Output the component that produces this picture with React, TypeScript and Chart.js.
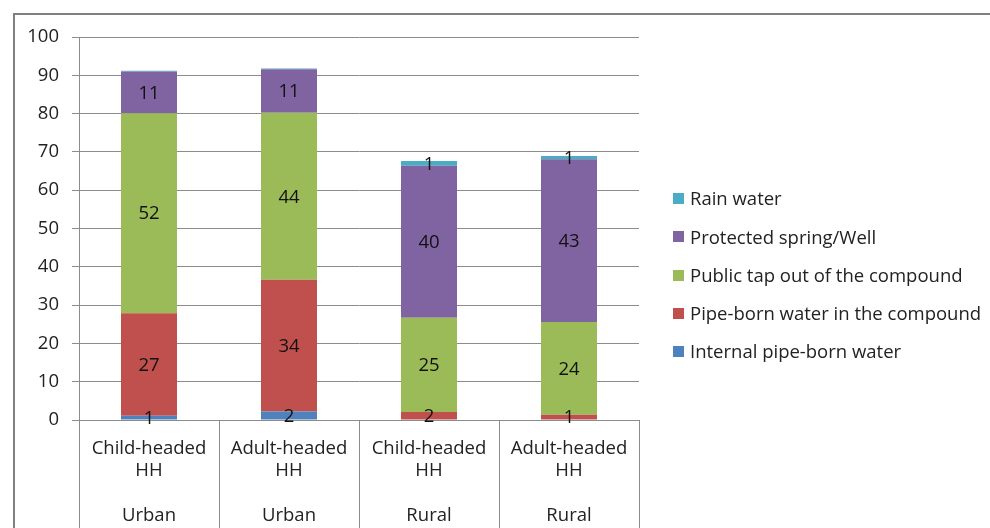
import React, { useEffect, useRef } from 'react';
import { Chart, registerables } from 'chart.js';

Chart.register(...registerables);

const categories: string[][] = [
  ['Child-headed', 'HH', '', 'Urban'],
  ['Adult-headed', 'HH', '', 'Urban'],
  ['Child-headed', 'HH', '', 'Rural'],
  ['Adult-headed', 'HH', '', 'Rural'],
];

const seriesNames = [
  'Internal pipe-born water',
  'Pipe-born water in the compound',
  'Public tap out of the compound',
  'Protected spring/Well',
  'Rain water',
];

const internalPipe = [1.1, 2.2, 0, 0];
const pipeCompound = [26.8, 34.4, 2.1, 1.4];
const publicTap = [52.2, 43.6, 24.6, 24.2];
const protectedSpring = [10.9, 11.4, 39.7, 42.5];
const rainWater = [0.2, 0.2, 1.2, 0.8];

const seriesColors = ['#4F81BD', '#C0504D', '#9BBB59', '#8064A2', '#4BACC6'];

const yTicks = [0, 10, 20, 30, 40, 50, 60, 70, 80, 90, 100];

const FONT = '"Open Sans", Lato, sans-serif';
const FS = 18.5;
const TEXT = '#222222';
const GRID = '#8c8c8c';

const decor = {
  id: 'decor',
  afterDraw(chart: any) {
    const ctx = chart.ctx as CanvasRenderingContext2D;
    const xs = chart.scales.x;
    const ys = chart.scales.y;
    ctx.save();
    // category separators below the axis
    ctx.strokeStyle = GRID;
    ctx.lineWidth = 1;
    const n = chart.data.labels.length;
    const half = (xs.getPixelForValue(1) - xs.getPixelForValue(0)) / 2;
    for (let i = 0; i <= n; i++) {
      const px = Math.round(xs.getPixelForValue(Math.min(i, n - 1)) + (i === n ? half : -half)) + 0.5;
      ctx.beginPath();
      ctx.moveTo(px, ys.bottom);
      ctx.lineTo(px, chart.height);
      ctx.stroke();
    }
    // data labels
    ctx.fillStyle = '#111';
    ctx.font = `${FS}px ${FONT}`;
    ctx.textAlign = 'center';
    ctx.textBaseline = 'middle';
    chart.data.datasets.forEach((ds: any, di: number) => {
      const meta = chart.getDatasetMeta(di);
      meta.data.forEach((bar: any, i: number) => {
        const v = Math.round(ds.data[i]);
        if (v < 1) return;
        ctx.fillText(String(v), bar.x, (bar.y + bar.base) / 2 + 1);
      });
    });
    // legend (reversed order)
    ctx.textAlign = 'left';
    const items = chart.data.datasets.slice().reverse();
    items.forEach((ds: any, k: number) => {
      const cy = 199 + k * 38.3;
      ctx.fillStyle = ds.backgroundColor;
      ctx.fillRect(673, Math.round(cy - 6), 11, 11);
      ctx.fillStyle = TEXT;
      ctx.fillText(ds.label, 690, cy + 1);
    });
    // outer border
    ctx.strokeStyle = '#808080';
    ctx.lineWidth = 2;
    ctx.strokeRect(14, 14, 1000, 1000);
    ctx.restore();
  },
};

export default function App() {
  const ref = useRef<HTMLCanvasElement>(null);
  useEffect(() => {
    if (!ref.current) return;
    const values = [internalPipe, pipeCompound, publicTap, protectedSpring, rainWater];
    const chart = new Chart(ref.current, {
      type: 'bar',
      data: {
        labels: categories as any,
        datasets: seriesNames.map((name, i) => ({
          label: name,
          data: values[i],
          backgroundColor: seriesColors[i],
          borderWidth: 0,
          barPercentage: 0.4,
          categoryPercentage: 1,
        })),
      },
      options: {
        animation: false,
        responsive: false,
        devicePixelRatio: 1,
        layout: { padding: { left: 0, top: 37, right: 351, bottom: 0 } },
        plugins: { legend: { display: false }, tooltip: { enabled: false } },
        scales: {
          x: {
            stacked: true,
            grid: { display: false, drawTicks: false },
            border: { display: true, color: GRID, width: 1 },
            ticks: {
              color: TEXT,
              font: { family: FONT, size: FS, lineHeight: 1.22 },
              padding: 17,
              maxRotation: 0,
              autoSkip: false,
            },
            afterFit: (s: any) => {
              s.height = 108;
            },
          },
          y: {
            stacked: true,
            min: 0,
            max: 100,
            afterBuildTicks: (s: any) => {
              s.ticks = yTicks.map((v) => ({ value: v }));
            },
            grid: { color: GRID, lineWidth: 1, tickLength: 7, drawTicks: true },
            border: { display: true, color: GRID, width: 1 },
            ticks: {
              color: TEXT,
              font: { family: FONT, size: FS },
              padding: 13,
            },
            afterFit: (s: any) => {
              s.width = 79;
            },
          },
        },
      },
      plugins: [decor],
    });
    return () => chart.destroy();
  }, []);
  return (
    <div style={{ position: 'absolute', left: 0, top: 0, width: 990, height: 528, background: '#fff' }}>
      <canvas ref={ref} width={990} height={528} style={{ width: 990, height: 528, display: 'block' }} />
    </div>
  );
}
